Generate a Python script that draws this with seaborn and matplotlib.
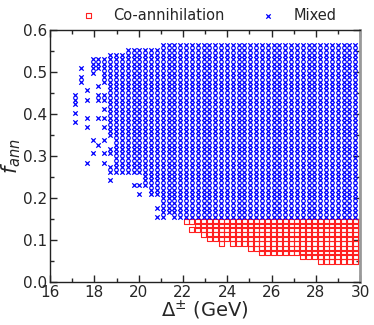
import numpy as np
import pandas as pd
import matplotlib
matplotlib.use("Agg")
import matplotlib.pyplot as plt
import seaborn as sns
from matplotlib.ticker import MultipleLocator

# scan grid
delta_cols = [17.13, 17.39, 17.66, 17.92, 18.18, 18.45, 18.71, 18.97, 19.24, 19.50,
              19.77, 20.03, 20.29, 20.56, 20.82, 21.08, 21.35, 21.61, 21.87, 22.14,
              22.40, 22.66, 22.93, 23.19, 23.45, 23.72, 23.98, 24.24, 24.51, 24.77,
              25.04, 25.30, 25.56, 25.83, 26.09, 26.35, 26.62, 26.88, 27.14, 27.41,
              27.67, 27.93, 28.20, 28.46, 28.72, 28.99, 29.25, 29.51, 29.78]
f_rows = [0.049, 0.060, 0.070, 0.081, 0.092, 0.103, 0.113, 0.124, 0.135, 0.145,
          0.156, 0.167, 0.177, 0.188, 0.199, 0.210, 0.220, 0.231, 0.242, 0.252,
          0.263, 0.274, 0.284, 0.295, 0.306, 0.317, 0.327, 0.338, 0.349, 0.359,
          0.370, 0.381, 0.391, 0.402, 0.413, 0.424, 0.434, 0.445, 0.456, 0.466,
          0.477, 0.488, 0.498, 0.509, 0.520, 0.531, 0.541, 0.552, 0.563]

# per column: filled row range (row index into f_rows), None = no points
mixed_top = [None] * 6 + [46, 46, 46] + [47] * 6 + [48] * 34
mixed_bottom = [None] * 6 + [28, 20, 20, 20, 20, 20, 18, 16, 15, 11, 11, 10] + [10] * 31
coann_bottom = [None] * 19 + [9, 7, 7, 6, 5, 5, 4, 5, 4, 4, 4, 3, 3,
                              2, 2, 2, 2, 2, 2, 2, 1, 1, 1, 0, 0, 0, 0, 0, 0, 0]
coann_top = 9

# isolated "mixed" points (column, row)
mixed_extra = [(0, 37), (0, 36), (0, 35), (0, 33), (0, 31),
               (1, 43), (1, 41), (1, 40),
               (2, 38), (2, 36), (2, 32), (2, 30), (2, 22),
               (3, 45), (3, 44), (3, 43), (3, 42), (3, 27), (3, 24),
               (4, 45), (4, 44), (4, 43), (4, 39), (4, 37), (4, 36), (4, 32), (4, 26),
               (5, 45), (5, 44), (5, 43), (5, 42), (5, 41), (5, 40), (5, 37), (5, 36),
               (5, 34), (5, 32), (5, 30), (5, 27), (5, 24), (5, 22),
               (6, 25), (6, 24), (6, 21), (6, 20), (6, 18),
               (10, 17), (11, 17), (11, 15), (12, 17), (13, 15),
               (14, 12), (14, 10), (15, 10)]
coann_missing = [(20, 8)]

rows = []
for i, x in enumerate(delta_cols):
    if mixed_top[i] is not None:
        for k in range(mixed_bottom[i], mixed_top[i] + 1):
            rows.append((x, f_rows[k], "Mixed"))
    if coann_bottom[i] is not None:
        for k in range(coann_bottom[i], coann_top + 1):
            if (i, k) not in coann_missing:
                rows.append((x, f_rows[k], "Co-annihilation"))
for i, k in mixed_extra:
    rows.append((delta_cols[i], f_rows[k], "Mixed"))
df = pd.DataFrame(rows, columns=["delta", "f_ann", "region"])

sns.set_style("ticks")
plt.rcParams["font.family"] = ["DejaVu Sans"]

fig = plt.figure(figsize=(3.74, 3.25), dpi=100)
ax = fig.add_axes([0.134, 0.132, 0.829, 0.776])

co = df[df.region == "Co-annihilation"]
mx = df[df.region == "Mixed"]
ax.scatter(co.delta, co.f_ann, marker="s", s=13, facecolors="none",
           edgecolors="#ff2020", linewidths=0.8, label="Co-annihilation")
sns.scatterplot(data=mx, x="delta", y="f_ann", marker="x", s=10, color="#0000ff",
                linewidth=0.9, label="Mixed", ax=ax)

ax.set_xlim(16, 30)
ax.set_ylim(0, 0.6)
ax.xaxis.set_major_locator(MultipleLocator(2))
ax.xaxis.set_minor_locator(MultipleLocator(1))
ax.yaxis.set_major_locator(MultipleLocator(0.1))
ax.yaxis.set_minor_locator(MultipleLocator(0.05))
ax.set_yticks(np.arange(0, 0.61, 0.1))
ax.set_yticklabels(["0.0", "0.1", "0.2", "0.3", "0.4", "0.5", "0.6"])
ax.tick_params(which="both", direction="in", top=True, right=True, labelsize=11, pad=2)
ax.tick_params(which="major", length=5, width=1)
ax.tick_params(which="minor", length=3, width=1)
for s in ax.spines.values():
    s.set_linewidth(1.0)
    s.set_color("#222222")
ax.spines["right"].set_color("#999999")
ax.spines["right"].set_linewidth(2)

ax.set_xlabel(r"$\Delta^{\pm}$ (GeV)", fontsize=14, labelpad=-0.5)
ax.set_ylabel(r"$f_{ann}$", fontsize=15, labelpad=0)

ax.legend(loc="lower center", bbox_to_anchor=(0.5, 1.0), ncol=2, frameon=False,
          fontsize=10.5, markerscale=1.0, handletextpad=0.7, columnspacing=2.0,
          borderaxespad=0.1)

fig.savefig("out.png", dpi=100)
